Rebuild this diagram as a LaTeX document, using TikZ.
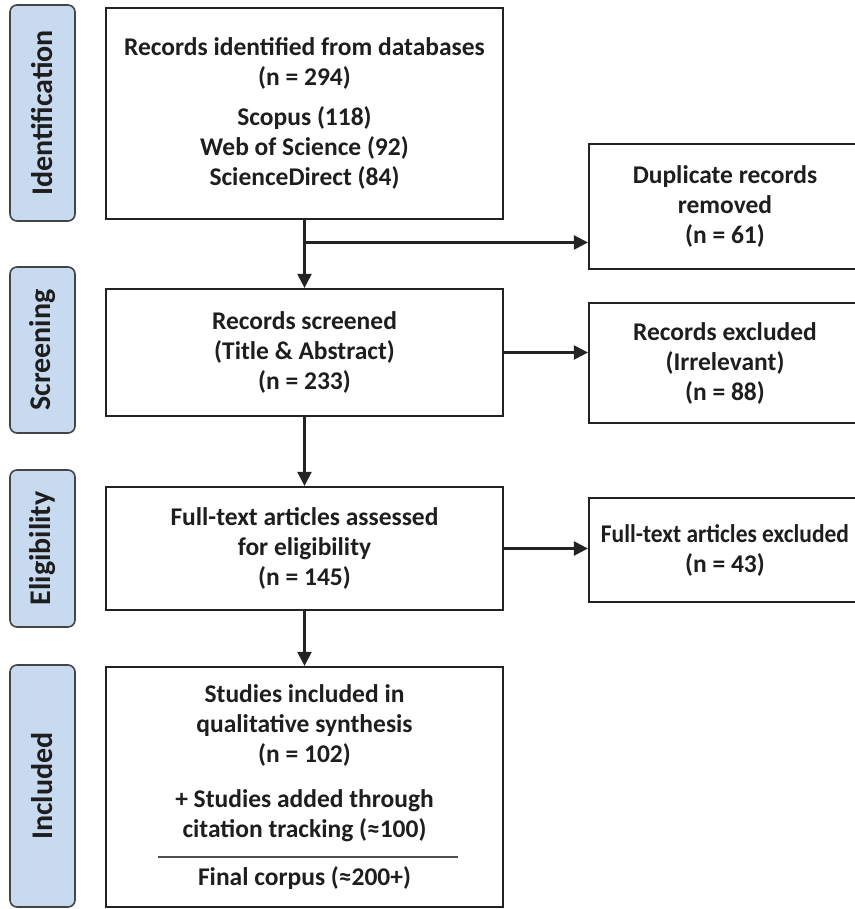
\documentclass[tikz,border=0pt]{standalone}
\usepackage{fontspec}
\setmainfont{Carlito}
\usetikzlibrary{positioning}
\usetikzlibrary{calc}
\usetikzlibrary{arrows.meta}
\definecolor{phasefill}{RGB}{200,218,240}
\definecolor{edge}{RGB}{35,35,35}
\definecolor{ink}{RGB}{30,30,30}
\newcommand\boxfont{\fontsize{25.5}{30}\selectfont\bfseries}
\newcommand\phasefont{\fontsize{30}{32}\selectfont\bfseries}

\begin{document}
\begin{tikzpicture}[x=1pt,y=-1pt,
  box/.style={draw=edge, line width=2.2pt, align=center, inner sep=0pt,
              text=ink, font=\boxfont},
  mainbox/.style={box, minimum width=397},
  sidebox/.style={box, minimum width=272},
  phase/.style={draw=edge!85, line width=1.6pt, fill=phasefill,
                rounded corners=7pt, rotate=90, minimum height=65,
                inner sep=0pt, text=ink, font=\phasefont},
  arr/.style={line width=2.2pt, draw=edge,
              -{Triangle[length=14pt,width=14pt]}}]

\useasboundingbox (0,0) rectangle (854,909);

\def\mainx{304.5}
\def\sidex{725}

%---------------------------------------
% Phase labels
%---------------------------------------
\node[phase, minimum width=216] (ident)  at (42.5,113)   {Identification};
\node[phase, minimum width=166] (screen) at (42.5,350)   {Screening};
\node[phase, minimum width=157] (elig)   at (42.5,548.5) {Eligibility};
\node[phase, minimum width=242] (incl)   at (42.5,786)   {Included};

%---------------------------------------
% Main column
%---------------------------------------
\node[mainbox, minimum height=211] (recid) at (\mainx,113.5)
  {Records identified from databases\\(n = 294)\\[10pt]
   Scopus (118)\\Web of Science (92)\\ScienceDirect (84)};
\node[mainbox, minimum height=127] (screened) at (\mainx,352.5)
  {Records screened\\(Title \& Abstract)\\(n = 233)};
\node[mainbox, minimum height=123] (fulltext) at (\mainx,548.5)
  {Full-text articles assessed\\for eligibility\\(n = 145)};
\node[mainbox, minimum height=240] (studies) at (\mainx,787)
  {Studies included in\\qualitative synthesis\\(n = 102)\\[15pt]
   + Studies added through\\citation tracking (≈100)\\[18pt]
   Final corpus (≈200+)};
\draw[edge!80, line width=1.3pt] (158,857) -- (458,857);

%---------------------------------------
% Exclusions
%---------------------------------------
\node[sidebox, minimum height=125] (dup) at (\sidex,206.5)
  {Duplicate records\\removed\\(n = 61)};
\node[sidebox, minimum height=120] (excl) at (\sidex,363)
  {Records excluded\\(Irrelevant)\\(n = 88)};
\node[sidebox, minimum height=104] (ftexcl) at (\sidex,550)
  {\scalebox{0.92}[1]{Full-text articles excluded}\\(n = 43)};

% Arrows
\coordinate (branch) at ($(recid.south)!0.33!(screened.north)$);
\draw[arr] (recid) -- (screened);
\draw[arr] (branch) -- (branch -| dup.west);
\draw[arr] (screened.east) -- (screened.east -| excl.west);
\draw[arr] (screened) -- (fulltext);
\draw[arr] (fulltext.east) -- (fulltext.east -| ftexcl.west);
\draw[arr] (fulltext) -- (studies);

\end{tikzpicture}
\end{document}
